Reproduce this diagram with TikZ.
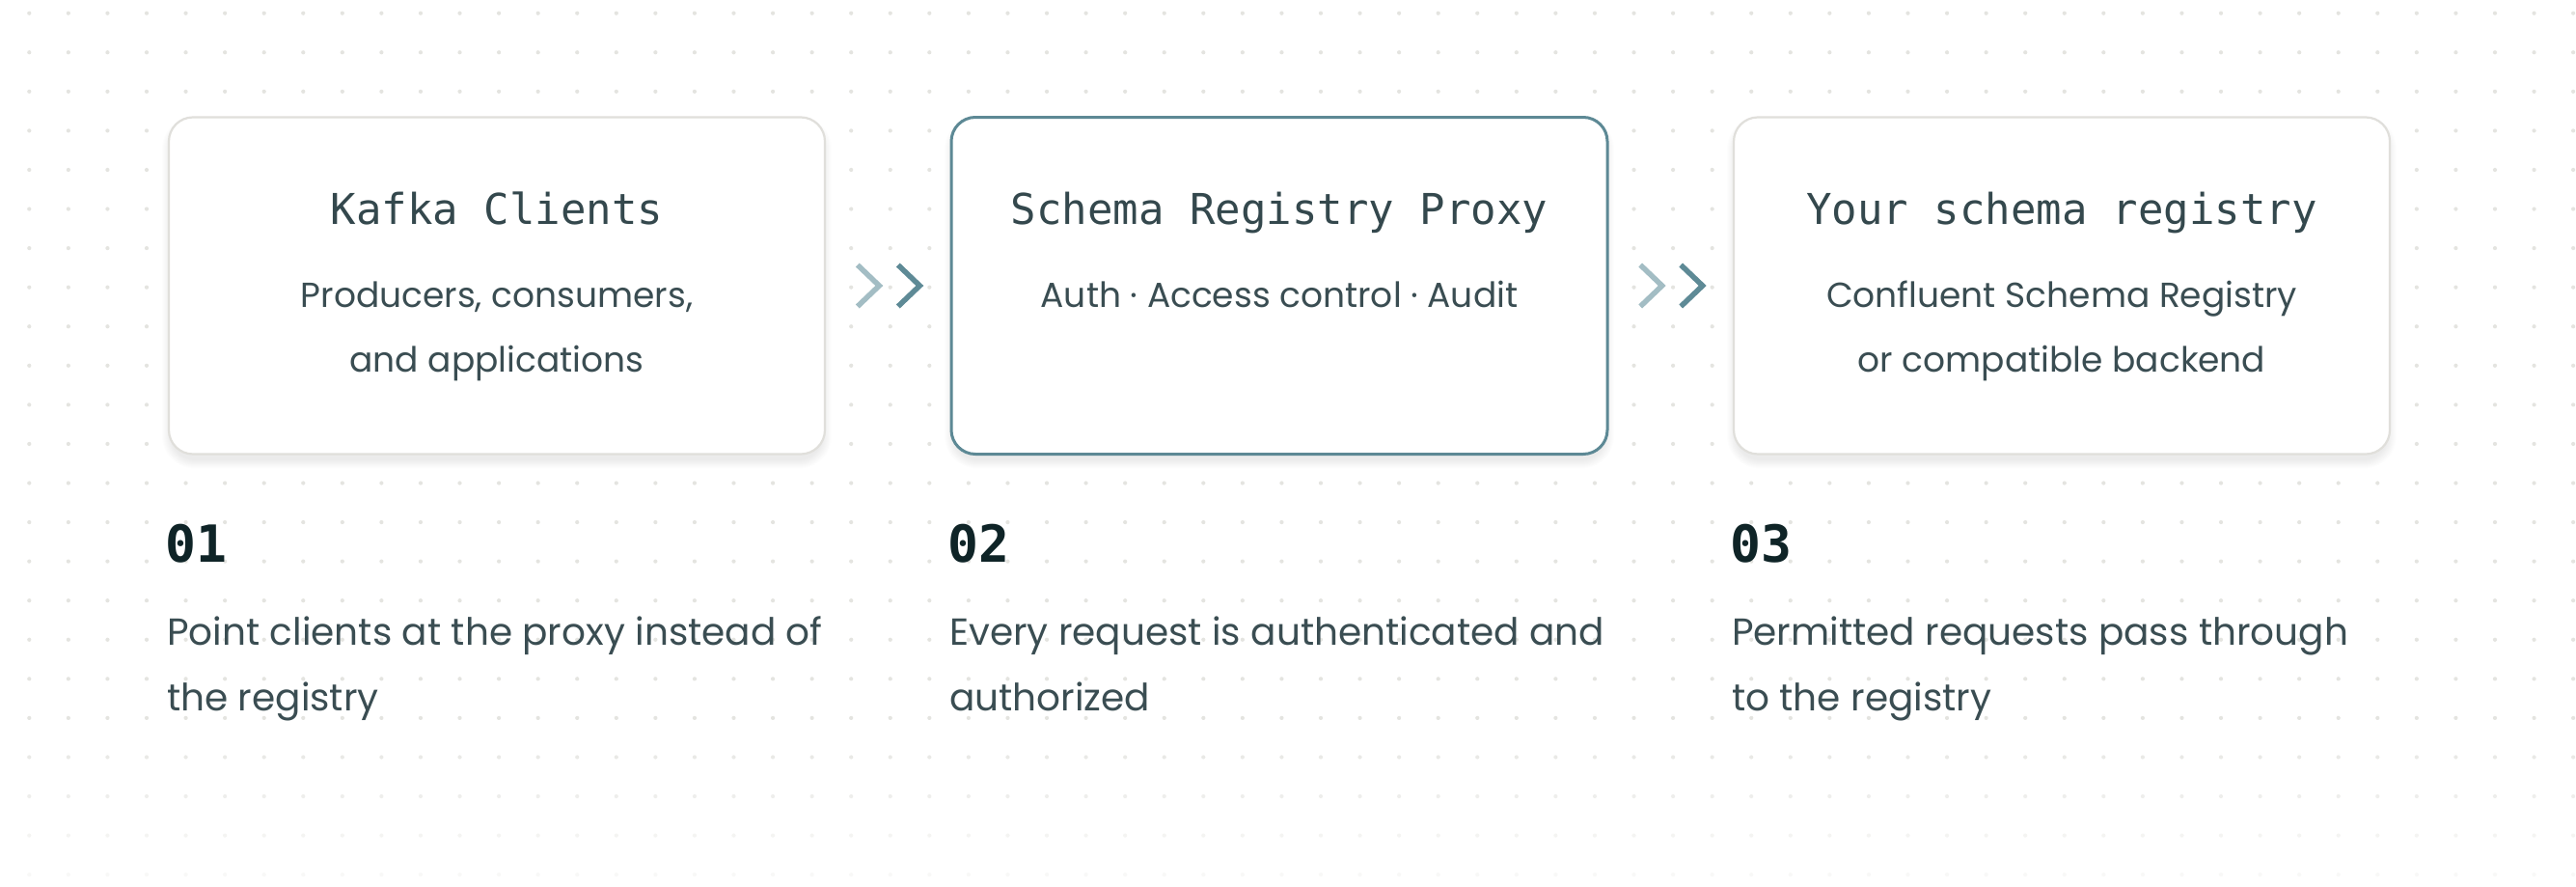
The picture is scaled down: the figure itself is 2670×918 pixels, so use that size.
\documentclass[tikz,border=0pt]{standalone}
\usepackage{fontspec}
\setmainfont{Poppins}
\setmonofont{DejaVu Sans Mono}
\usetikzlibrary{calc}
\definecolor{dotc}{HTML}{E4E4E0}
\definecolor{boxline}{HTML}{E0DFDB}
\definecolor{hl}{HTML}{5D8995}
\definecolor{chevlight}{HTML}{A3BDC4}
\definecolor{chevdark}{HTML}{5E8A96}
\definecolor{txt}{HTML}{3A4D52}
\definecolor{ttl}{HTML}{34484D}
\definecolor{num}{HTML}{0F2427}
\tikzset{
  card/.style={draw=boxline, line width=2.2pt, fill=white, rounded corners=25pt,
    minimum width=680pt, minimum height=349pt, inner sep=0pt},
  cardhl/.style={card, draw=hl, line width=3pt},
  softshadow/.style={fill=black, opacity=0.009},
  ttlfont/.style={inner sep=0pt, anchor=base, text=ttl, font=\ttfamily\fontsize{44}{52}\selectfont},
  subfont/.style={inner sep=0pt, anchor=base, text=txt, font=\fontsize{36}{44}\selectfont},
  numfont/.style={inner sep=0pt, anchor=base west, text=num, font=\ttfamily\bfseries\fontsize{53}{60}\selectfont},
  descfont/.style={inner sep=0pt, anchor=base west, text=txt, font=\fontsize{39}{48}\selectfont},
  chevA/.style={draw=chevlight, line width=5.5pt, miter limit=10, line join=miter},
  chevB/.style={draw=chevdark, line width=5.5pt, miter limit=10, line join=miter}
}
\begin{document}
\begin{tikzpicture}[x=1pt,y=-1pt]
\useasboundingbox (0,0) rectangle (2670,918);
\fill[white] (0,0) rectangle (2670,918);
% dot grid
\foreach \j in {0,...,22}{
  \pgfmathsetmacro{\op}{\j<19 ? 1 : max(0.25,1-(\j-18)*0.2)}
  \foreach \i in {0,...,65}{
    \fill[dotc, opacity=\op] (30.3+40.566*\i, 13.7+40.566*\j) circle (2.1pt);
  }
}
% soft shadows under the cards
\foreach \cx in {515,1326,2137}{
  \foreach \k in {0,...,9}{
    \fill[softshadow, rounded corners=25pt+\k pt]
      (\cx-340-\k+2, 121.5+6-\k+2) rectangle (\cx+340+\k-2, 470.5+6+\k);
  }
}
% cards
\node[card]   (b1) at (515,296)  {};
\node[cardhl] (b2) at (1326,296) {};
\node[card]   (b3) at (2137,296) {};
% titles and subtitles
\node[ttlfont] (t1) at (515,232)  {Kafka Clients};
\node[subfont] (s1a) at (515,318) {Producers, consumers,};
\node[subfont] (s1b) at (515,385) {and applications};
\node[ttlfont] (t2) at (1326,232) {Schema Registry Proxy};
\node[subfont] (s2a) at (1326,318) {Auth · Access control · Audit};
\node[ttlfont] (t3) at (2137,232) {Your schema registry};
\node[subfont] (s3a) at (2137,318) {Confluent Schema Registry};
\node[subfont] (s3b) at (2137,385) {or compatible backend};
% chevrons between cards
\coordinate (m1) at ($(b1.east)!0.5!(b2.west)$);
\coordinate (m2) at ($(b2.east)!0.5!(b3.west)$);
\foreach \m in {m1,m2}{
  \draw[chevA] ($(\m)+(-31.5,-21.5)$) -- ($(\m)+(-9,0)$) -- ($(\m)+(-31.5,21.5)$);
  \draw[chevB] ($(\m)+(10.5,-21.5)$) -- ($(\m)+(33,0)$) -- ($(\m)+(10.5,21.5)$);
}
% steps
\node[numfont] (n1) at (171,582) {01};
\node[descfont] (d1a) at (173,668) {Point clients at the proxy instead of};
\node[descfont] (d1b) at (173,736) {the registry};
\node[numfont] (n2) at (982,582) {02};
\node[descfont] (d2a) at (984,668) {Every request is authenticated and};
\node[descfont] (d2b) at (984,736) {authorized};
\node[numfont] (n3) at (1793,582) {03};
\node[descfont] (d3a) at (1795,668) {Permitted requests pass through};
\node[descfont] (d3b) at (1795,736) {to the registry};
\end{tikzpicture}
\end{document}
